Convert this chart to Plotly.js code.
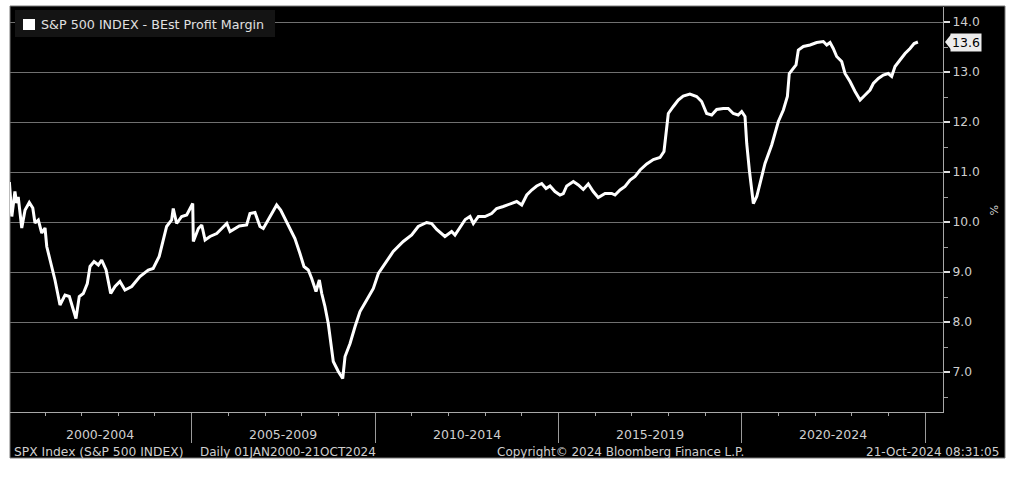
<!DOCTYPE html>
<html>
<head>
<meta charset="utf-8">
<script src="https://cdn.plot.ly/plotly-3.0.1.min.js"></script>
<style>
  html, body { margin: 0; padding: 0; background: #ffffff; }
  #chart { width: 1024px; height: 477px; }
</style>
</head>
<body>
<div id="chart"></div>
<script>
// ---- data (S&P 500 BEst Profit Margin, %) ----
const dates = [
  '2000-01-12','2000-02-05','2000-03-07','2000-03-24','2000-04-09','2000-05-14','2000-06-16','2000-07-28',
  '2000-09-01','2000-09-23','2000-10-26','2000-11-29','2001-01-01','2001-01-18','2001-02-20','2001-04-10',
  '2001-05-30','2001-07-19','2001-08-31','2001-10-03','2001-11-05','2001-12-08','2002-01-17','2002-02-26',
  '2002-03-25','2002-05-04','2002-06-16','2002-07-19','2002-09-01','2002-10-17','2002-11-29','2003-01-17',
  '2003-03-08','2003-05-14','2003-08-04','2003-10-26','2003-12-14','2004-02-12','2004-03-23','2004-04-26',
  '2004-06-15','2004-07-01','2004-08-04','2004-09-23','2004-11-12','2005-01-11','2005-01-17','2005-03-08',
  '2005-04-11','2005-05-14','2005-07-02','2005-09-07','2005-10-27','2005-12-16','2006-01-18','2006-03-08',
  '2006-04-20','2006-07-02','2006-08-04','2006-09-23','2006-11-12','2006-12-15','2007-02-03','2007-03-18',
  '2007-04-27','2007-06-06','2007-07-19','2007-09-07','2007-10-26','2007-12-15','2008-01-24','2008-03-07',
  '2008-04-10','2008-05-23','2008-06-25','2008-07-19','2008-08-20','2008-09-22','2008-10-16','2008-11-11',
  '2008-12-31','2009-02-13','2009-03-08','2009-04-27','2009-06-16','2009-08-04','2009-10-10','2009-12-15',
  '2010-02-03','2010-04-10','2010-07-01','2010-10-09','2011-01-01','2011-03-07','2011-05-30','2011-07-19',
  '2011-09-07','2011-11-28','2012-02-03','2012-03-07','2012-04-26','2012-06-17','2012-08-04','2012-09-06',
  '2012-10-26','2012-12-31','2013-03-07','2013-04-26','2013-07-01','2013-09-06','2013-11-12','2014-01-01',
  '2014-02-20','2014-04-10','2014-05-30','2014-07-19','2014-08-31','2014-10-10','2014-11-28','2015-01-17',
  '2015-02-19','2015-03-25','2015-05-30','2015-07-19','2015-09-06','2015-10-26','2015-12-14','2016-02-02',
  '2016-04-10','2016-06-15','2016-07-18','2016-09-06','2016-10-26','2016-12-15','2017-02-03','2017-03-25',
  '2017-05-30','2017-08-04','2017-10-09','2017-11-18','2017-12-15','2017-12-31','2018-02-19','2018-04-09',
  '2018-05-28','2018-08-03','2018-10-09','2018-11-28','2019-01-17','2019-03-08','2019-04-27','2019-07-01',
  '2019-08-20','2019-10-09','2019-11-27','2020-01-01','2020-02-03','2020-02-20','2020-03-17','2020-04-10',
  '2020-04-26','2020-05-30','2020-07-02','2020-08-20','2020-10-26','2020-12-31','2021-02-19','2021-03-31',
  '2021-04-19','2021-05-13','2021-06-25','2021-07-18','2021-09-06','2021-11-12','2022-01-17','2022-03-24',
  '2022-04-27','2022-05-30','2022-07-01','2022-08-04','2022-09-23','2022-10-26','2022-12-15','2023-02-03',
  '2023-03-25','2023-05-14','2023-07-02','2023-08-04','2023-09-23','2023-11-11','2023-12-31','2024-02-03',
  '2024-03-07','2024-04-26','2024-06-15','2024-08-04','2024-09-13','2024-10-21'
];
const margins = [
  10.80,10.11,10.61,10.38,10.50,9.88,10.24,10.39,
  10.28,9.98,10.04,9.78,9.88,9.51,9.24,8.84,
  8.34,8.54,8.51,8.31,8.07,8.51,8.57,8.77,
  9.11,9.21,9.14,9.24,9.04,8.57,8.71,8.81,
  8.64,8.71,8.91,9.04,9.07,9.31,9.61,9.91,
  10.04,10.27,9.97,10.11,10.14,10.37,9.61,9.87,
  9.94,9.64,9.71,9.77,9.87,9.97,9.81,9.87,
  9.92,9.94,10.17,10.19,9.91,9.87,10.04,10.21,
  10.34,10.24,10.07,9.87,9.67,9.37,9.11,9.04,
  8.87,8.61,8.84,8.57,8.31,7.97,7.64,7.21,
  7.01,6.87,7.31,7.57,7.91,8.21,8.44,8.67,
  8.97,9.17,9.41,9.61,9.74,9.91,9.99,9.97,
  9.85,9.71,9.81,9.74,9.88,10.05,10.11,9.97,
  10.11,10.11,10.17,10.27,10.31,10.36,10.41,10.34,
  10.54,10.64,10.72,10.77,10.67,10.72,10.61,10.54,
  10.57,10.72,10.81,10.74,10.65,10.76,10.61,10.49,
  10.57,10.57,10.54,10.64,10.71,10.84,10.91,11.04,
  11.16,11.25,11.29,11.41,11.84,12.17,12.31,12.44,
  12.52,12.56,12.51,12.41,12.17,12.14,12.25,12.27,
  12.27,12.17,12.14,12.21,12.11,11.57,11.04,10.57,
  10.37,10.51,10.77,11.17,11.54,12.01,12.24,12.51,
  12.97,13.04,13.14,13.44,13.51,13.54,13.59,13.61,
  13.54,13.59,13.47,13.31,13.21,12.97,12.81,12.61,
  12.44,12.54,12.64,12.77,12.87,12.94,12.97,12.91,
  13.11,13.24,13.37,13.47,13.57,13.60
];
const seriesName = 'S&P 500 INDEX - BEst Profit Margin';
const periodLabels = ['2000-2004','2005-2009','2010-2014','2015-2019','2020-2024'];
const periodMid = ['2002-07-02','2007-07-02','2012-07-02','2017-07-02','2022-07-02'];
const separatorDates = ['2005-01-01','2010-01-01','2015-01-01','2020-01-01','2025-01-01'];
const yTicks = [7,8,9,10,11,12,13,14];
const footerLeft = 'SPX Index (S&P 500 INDEX)';
const footerRange = 'Daily 01JAN2000-21OCT2024';
const footerCopy = 'Copyright\u00A9 2024 Bloomberg Finance L.P.';
const footerStamp = '21-Oct-2024 08:31:05';

// ---- chart ----
const FONT = 'DejaVu Sans, Verdana, sans-serif';
const TXT = '#cfcfcf';
const W = 1024, H = 477;
const M = {l: 10, r: 81, t: 7, b: 65};
const pw = W - M.l - M.r, ph = H - M.t - M.b;
const px = v => (v - M.l) / pw;          // pixel -> paper x
const py = v => (H - M.b - v) / ph;      // pixel -> paper y

const lastVal = margins[margins.length - 1];

const trace = {
  x: dates, y: margins, type: 'scatter', mode: 'lines', name: seriesName,
  line: {color: '#ffffff', width: 3}, hoverinfo: 'skip', showlegend: false
};

const annotations = [];
periodLabels.forEach((t, i) => annotations.push({
  x: periodMid[i], xref: 'x', y: py(435), yref: 'paper', text: t, showarrow: false,
  xanchor: 'center', yanchor: 'middle', font: {family: FONT, size: 12.5, color: TXT}
}));
annotations.push(
  {x: px(12), xref: 'paper', y: py(452), yref: 'paper', text: footerLeft, showarrow: false,
   xanchor: 'left', yanchor: 'middle', font: {family: FONT, size: 12.3, color: TXT}},
  {x: px(198), xref: 'paper', y: py(452), yref: 'paper', text: footerRange, showarrow: false,
   xanchor: 'left', yanchor: 'middle', font: {family: FONT, size: 12, color: TXT}},
  {x: px(620), xref: 'paper', y: py(452), yref: 'paper', text: footerCopy, showarrow: false,
   xanchor: 'center', yanchor: 'middle', font: {family: FONT, size: 12, color: TXT}},
  {x: px(1001), xref: 'paper', y: py(452), yref: 'paper', text: footerStamp, showarrow: false,
   xanchor: 'right', yanchor: 'middle', font: {family: FONT, size: 12, color: TXT}},
  {x: px(39), xref: 'paper', y: py(24.5), yref: 'paper', text: seriesName, showarrow: false,
   xanchor: 'left', yanchor: 'middle', font: {family: FONT, size: 12.7, color: '#e0e0e0'}},
  {x: px(994), xref: 'paper', y: py(210), yref: 'paper', text: '%', showarrow: false,
   textangle: 90, xanchor: 'center', yanchor: 'middle', font: {family: FONT, size: 11, color: TXT}},
  {x: px(950), xref: 'paper', y: lastVal, yref: 'y', text: lastVal.toFixed(1), showarrow: false,
   xanchor: 'left', yanchor: 'middle', bgcolor: '#ececec', borderpad: 1,
   font: {family: FONT, size: 12.5, color: '#000000'}}
);

const shapes = [
  // black panel
  {type: 'rect', xref: 'paper', yref: 'paper', x0: px(10), x1: px(1005), y0: py(458), y1: py(6),
   fillcolor: '#000000', line: {color: '#7a7a7a', width: 1}, layer: 'below'},
  // legend box
  {type: 'rect', xref: 'paper', yref: 'paper', x0: px(15), x1: px(275), y0: py(37), y1: py(10),
   fillcolor: '#141414', line: {width: 0}, layer: 'above'},
  // legend swatch
  {type: 'rect', xref: 'paper', yref: 'paper', x0: px(23), x1: px(35), y0: py(30), y1: py(19),
   fillcolor: '#ffffff', line: {width: 0}, layer: 'above'},
  // pointer of last value label
  {type: 'path', xref: 'paper', yref: 'y',
   path: `M ${px(945)},${lastVal} L ${px(951)},${lastVal + 0.15} L ${px(951)},${lastVal - 0.15} Z`,
   fillcolor: '#ececec', line: {width: 0}, layer: 'above'}
];

const layout = {
  width: W, height: H, autosize: false,
  margin: M,
  paper_bgcolor: '#ffffff', plot_bgcolor: 'rgba(0,0,0,0)',
  showlegend: false,
  xaxis: {
    type: 'date', range: ['2000-01-18', '2025-06-28'],
    tickmode: 'array', tickvals: separatorDates, showticklabels: false,
    ticks: 'outside', ticklen: 30, tickwidth: 1, tickcolor: '#9a9a9a',
    showgrid: false, zeroline: false,
    showline: true, linecolor: '#a8a8a8', linewidth: 1,
    minor: {tickmode: 'linear', tick0: '2000-01-01', dtick: 'M12', ticks: 'outside',
            ticklen: 3, tickwidth: 1, tickcolor: '#a8a8a8', showgrid: false},
    fixedrange: true
  },
  yaxis: {
    side: 'right', range: [6.2, 14.3],
    tickmode: 'array', tickvals: yTicks, tickformat: '.1f',
    ticks: 'outside', ticklen: 6, tickwidth: 2, tickcolor: '#e0e0e0',
    tickfont: {family: FONT, size: 12.3, color: TXT},
    showgrid: true, gridcolor: '#707070', gridwidth: 1, zeroline: false,
    showline: true, linecolor: '#a8a8a8', linewidth: 1,
    minor: {tickmode: 'linear', tick0: 0, dtick: 0.5, ticks: 'outside',
            ticklen: 4, tickwidth: 1, tickcolor: '#a0a0a0', showgrid: false},
    fixedrange: true
  },
  annotations: annotations,
  shapes: shapes
};

Plotly.newPlot('chart', [trace], layout, {staticPlot: true, displayModeBar: false});
</script>
</body>
</html>
